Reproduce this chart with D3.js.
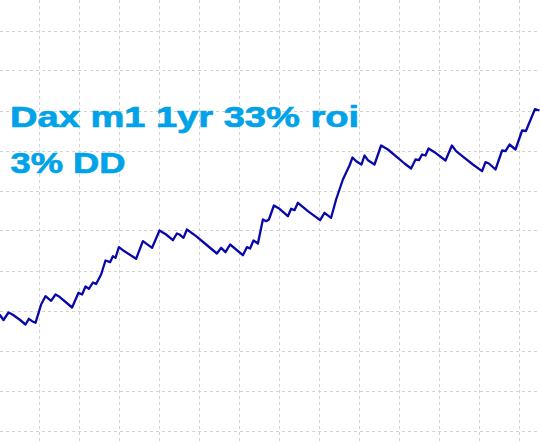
<!DOCTYPE html>
<html>
<head>
<meta charset="utf-8">
<script src="https://cdn.jsdelivr.net/npm/d3@7"></script>
<style>
  html, body { margin: 0; padding: 0; background: #ffffff; }
  svg { display: block; }
</style>
</head>
<body>
<div id="chart"></div>
<script>
// ---- data (bar index, account equity) ----
const barIndex = [0, 2, 4.5, 6.5, 10, 13, 14.7, 16.3, 18, 20.8, 23, 25.8, 28, 30, 36.3, 39.5, 41.3, 43, 44.7, 46.7,
  48.3, 50.8, 53, 55.3, 56.7, 58, 59.7, 61.7, 68.3, 71.7, 76.3, 80, 83.3, 86.7, 88.7, 90, 92, 93.7, 98.3, 103.3,
  108.7, 110.8, 113, 115.3, 121.7, 123.7, 125.3, 127, 129.2, 131.7, 133.3, 134.7, 137.2, 140, 144.2, 145.8, 147.5, 149.2, 154.2, 160.3,
  162.5, 165.8, 168.3, 171.7, 175, 176.5, 178.5, 181, 182.5, 184.2, 187.5, 190.8, 194.2, 199.2, 202.5, 205.8, 208, 209.7, 211.3, 213,
  214.5, 217.5, 223, 226.2, 228.3, 232.5, 236.7, 241.3, 243, 244.7, 248, 251.3, 253, 255, 258, 261.3, 263.2, 267.7, 270];
const equity = [9952, 9864, 9984, 9952, 9872, 9792, 9883, 9845, 9819, 10112, 10245, 10171, 10272, 10235, 10064, 10299, 10272, 10400, 10363, 10464,
  10440, 10592, 10816, 10789, 10885, 10859, 11029, 10981, 10843, 11125, 11019, 11296, 11232, 11141, 11248, 11232, 11179, 11312, 11205, 11072,
  10928, 11019, 10949, 11072, 10901, 11029, 11008, 11136, 11088, 11472, 11445, 11472, 11696, 11643, 11525, 11643, 11621, 11739, 11605, 11461,
  11579, 11499, 11792, 12112, 12336, 12464, 12400, 12352, 12496, 12421, 12352, 12656, 12592, 12459, 12368, 12288, 12432, 12421, 12512, 12496,
  12608, 12549, 12416, 12656, 12565, 12459, 12352, 12245, 12389, 12368, 12272, 12576, 12565, 12672, 12592, 12896, 12888, 13237, 13216];

// grid positions (data units)
const xGridTicks = [20, 40, 60, 80, 100, 120, 140, 160, 180, 200, 220, 240, 260];
const yGridTicks = [8080, 8720, 9360, 10000, 10640, 11280, 11920, 12560, 13200, 13840, 14480];

const titleLines = ["Dax m1 1yr 33% roi", "3% DD"];

// ---- layout ----
const W = 540, H = 444;
const svg = d3.select("#chart").append("svg")
  .attr("width", W).attr("height", H)
  .style("background", "#ffffff");

const x = d3.scaleLinear().domain([0.25, 270.25]).range([0, 540]);
const y = d3.scaleLinear().domain([7880, 14984]).range([444, 0]);

// grid
const grid = svg.append("g").attr("stroke", "#d2d2d2").attr("stroke-width", 1)
  .attr("stroke-dasharray", "3,3").attr("shape-rendering", "crispEdges");

grid.selectAll("line.v").data(xGridTicks).join("line")
  .attr("class", "v")
  .attr("x1", d => Math.round(x(d)) - 0.5).attr("x2", d => Math.round(x(d)) - 0.5)
  .attr("y1", 0).attr("y2", H);

grid.selectAll("line.h").data(yGridTicks).join("line")
  .attr("class", "h")
  .attr("y1", d => Math.round(y(d)) - 0.5).attr("y2", d => Math.round(y(d)) - 0.5)
  .attr("x1", 0).attr("x2", W);

// equity line
const pts = barIndex.map((t, i) => [t, equity[i]]);
const line = d3.line().x(d => x(d[0])).y(d => y(d[1]));
svg.append("path")
  .datum(pts)
  .attr("d", line)
  .attr("fill", "none")
  .attr("stroke", "#0808aa")
  .attr("stroke-width", 2.3)
  .attr("stroke-linejoin", "round");

// title text
const txt = svg.append("g")
  .attr("font-family", "'Liberation Sans', Arial, sans-serif")
  .attr("font-weight", "bold")
  .attr("font-size", 30)
  .attr("fill", "#00a2e8")
  .attr("stroke", "#00a2e8")
  .attr("stroke-width", 0.7);

txt.append("text").attr("x", 10).attr("y", 126.5)
  .attr("textLength", 349).attr("lengthAdjust", "spacingAndGlyphs")
  .text(titleLines[0]);
txt.append("text").attr("x", 10.5).attr("y", 173)
  .attr("textLength", 115).attr("lengthAdjust", "spacingAndGlyphs")
  .text(titleLines[1]);
</script>
</body>
</html>
